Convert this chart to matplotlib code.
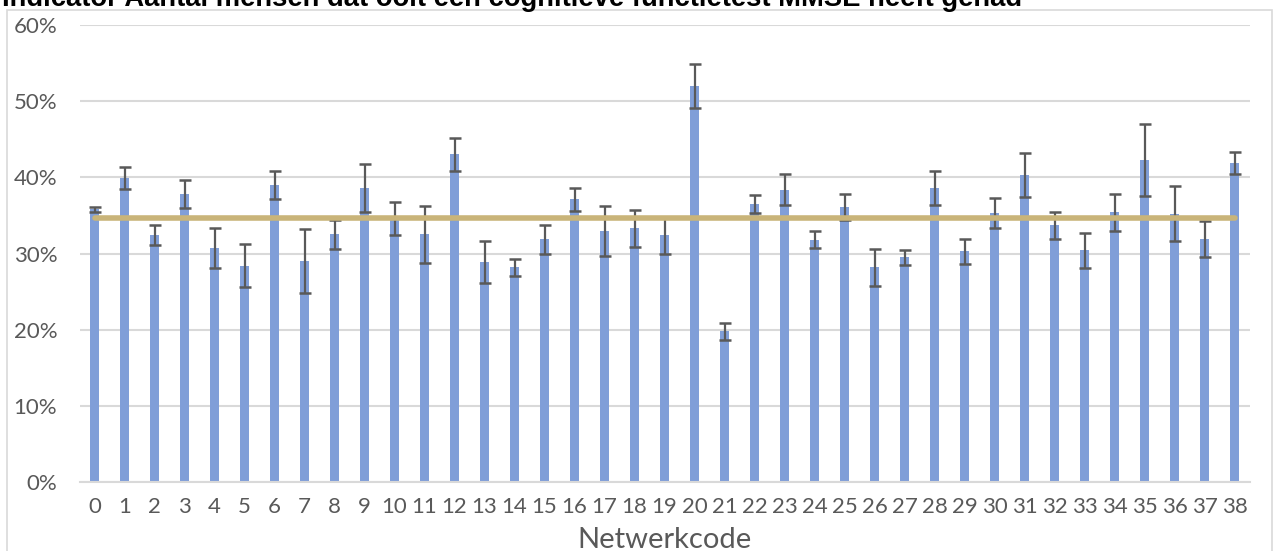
import numpy as np
import matplotlib
matplotlib.use("Agg")
import matplotlib.pyplot as plt
from matplotlib.patches import Rectangle

# data
codes = [str(i) for i in range(39)]
percent = [35.8, 39.9, 32.4, 37.8, 30.7, 28.4, 39.0, 29.0, 32.5, 38.6,
           34.6, 32.5, 43.0, 28.9, 28.2, 31.9, 37.1, 33.0, 33.3, 32.4,
           52.0, 19.8, 36.5, 38.4, 31.8, 36.1, 28.2, 29.5, 38.6, 30.3,
           35.3, 40.3, 33.7, 30.4, 35.4, 42.3, 35.2, 31.9, 41.9]
err = [0.35, 1.45, 1.3, 1.8, 2.6, 2.8, 1.8, 4.2, 1.9, 3.2,
       2.15, 3.7, 2.15, 2.8, 1.1, 1.9, 1.5, 3.3, 2.4, 2.4,
       2.9, 1.1, 1.2, 2.0, 1.1, 1.75, 2.45, 1.0, 2.25, 1.65,
       1.95, 2.9, 1.75, 2.25, 2.45, 4.7, 3.6, 2.4, 1.45]
gemiddelde = 34.7
yticks = [0, 10, 20, 30, 40, 50, 60]

W, H = 1277, 551
fig = plt.figure(figsize=(W / 100, H / 100), dpi=100)

# chart frame like the excel chart area
fig.patches.append(Rectangle((7 / W, -0.1), (1272 - 7) / W, 1.1 - 10 / H,
                             transform=fig.transFigure, fill=False,
                             edgecolor="#D9D9D9", lw=1.2, zorder=0))

ax = fig.add_axes([79.5 / W, (H - 482) / H, 1170 / W, 457 / H])
x = np.arange(len(codes))

ax.bar(x, percent, width=0.3, color="#809ED8", zorder=2)
ax.errorbar(x, percent, yerr=err, fmt="none", ecolor="#595959",
            elinewidth=1.6, capsize=4, capthick=1.8, zorder=3)
ax.plot(x, [gemiddelde] * len(x), color="#C9B479", lw=4,
        solid_capstyle="round", zorder=4)

ax.set_xlim(-0.5, len(codes) - 0.5)
ax.set_ylim(0, 60)
ax.set_yticks(yticks)
ax.set_yticklabels([f"{t}%" for t in yticks])
ax.set_xticks(x)
ax.set_xticklabels(codes)
ax.yaxis.grid(True, color="#D9D9D9", lw=1.5, zorder=0)
ax.set_axisbelow(True)
for s in ["top", "right", "left"]:
    ax.spines[s].set_visible(False)
ax.spines["bottom"].set_color("#D9D9D9")
ax.spines["bottom"].set_linewidth(1.5)
ax.tick_params(axis="both", length=0, colors="#595959", labelsize=16,
               labelfontfamily="Lato")
ax.tick_params(axis="y", pad=16)
ax.tick_params(axis="x", pad=11)

fig.text(664 / W, 1 - 540 / H, "Netwerkcode", ha="center", va="center",
         fontsize=21, color="#595959", family="Lato")

fig.text(2 / W, 1 - 6 / H,
         "Indicator Aantal mensen dat ooit een cognitieve functietest MMSE heeft gehad",
         ha="left", va="baseline", fontsize=19.7, fontweight="bold",
         color="black", family="Liberation Sans")

fig.savefig("out.png", dpi=100)
